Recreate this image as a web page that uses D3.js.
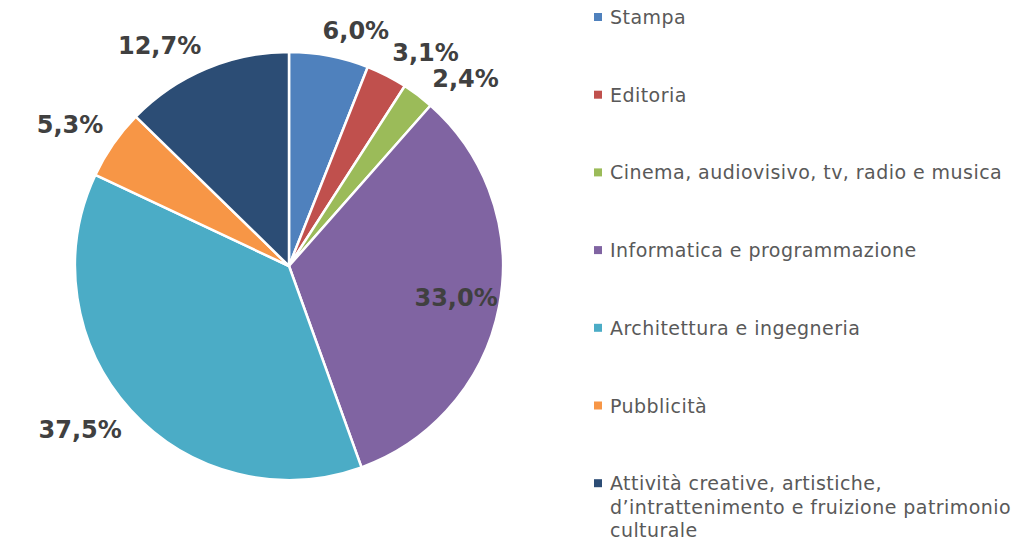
<!DOCTYPE html>
<html>
<head>
<meta charset="utf-8">
<script src="https://cdn.jsdelivr.net/npm/d3@7"></script>
<style>
  body { margin: 0; background: #fff; }
  svg { display: block; }
</style>
</head>
<body>
<div id="chart"></div>
<script>
// categories, shares (percent) and slice colours
var categories = ["Stampa", "Editoria", "Cinema, audiovisivo, tv, radio e musica",
  "Informatica e programmazione", "Architettura e ingegneria", "Pubblicità",
  "Attività creative, artistiche, d\u2019intrattenimento e fruizione patrimonio culturale"];
var values = [6.0, 3.1, 2.4, 33.0, 37.5, 5.3, 12.7];
var colors = ["#4F81BD", "#C0504D", "#9BBB59", "#8064A2", "#4BACC6", "#F79646", "#2C4D75"];
// legend text broken in lines like the original
var legendLines = [["Stampa"], ["Editoria"], ["Cinema, audiovisivo, tv, radio e musica"],
  ["Informatica e programmazione"], ["Architettura e ingegneria"], ["Pubblicità"],
  ["Attività creative, artistiche,", "d\u2019intrattenimento e fruizione patrimonio", "culturale"]];
// labels that Excel put inside the slice
var insideLabels = [false, false, false, true, false, false, false];

var width = 1033, height = 546;
var cx = 289, cy = 266, radius = 214;

var svg = d3.select("#chart").append("svg")
  .attr("width", width)
  .attr("height", height);

var data = categories.map(function (c, i) {
  return {name: c, value: values[i], color: colors[i], inside: insideLabels[i]};
});

var pie = d3.pie()
  .sort(null)
  .value(function (d) { return d.value; });

var arc = d3.arc()
  .innerRadius(0)
  .outerRadius(radius);

var arcs = pie(data);

var g = svg.append("g")
  .attr("transform", "translate(" + cx + "," + cy + ")");

g.selectAll("path.slice")
  .data(arcs)
  .enter()
  .append("path")
    .attr("class", "slice")
    .attr("d", arc)
    .style("fill", function (d) { return d.data.color; })
    .style("stroke", "#fff")
    .style("stroke-width", 2.5)
    .style("stroke-linejoin", "round");

function fmt(v) {
  return v.toFixed(1).replace(".", ",") + "%";
}

// data labels
var labels = g.selectAll("text.lbl")
  .data(arcs)
  .enter()
  .append("text")
    .attr("class", "lbl")
    .attr("text-anchor", "middle")
    .attr("dominant-baseline", "central")
    .style("font-family", "'DejaVu Sans', Verdana, sans-serif")
    .style("font-weight", "bold")
    .style("font-size", "24px")
    .style("fill", "#404040")
    .text(function (d) { return fmt(d.data.value); });

var hh = 12, anchorR = radius + 12;

// outside end: the box corner nearest the pie sits on the anchor point
function placeOut(a, hw) {
  var sx = Math.sin(a), sy = -Math.cos(a);
  return {
    x: sx * anchorR + (sx >= 0 ? hw : -hw),
    y: sy * anchorR + (sy >= 0 ? hh : -hh)
  };
}

var lab = [];
labels.each(function (d) {
  lab.push({el: this, d: d, a: (d.startAngle + d.endAngle) / 2,
    hw: this.getBBox().width / 2, inside: d.data.inside});
});

// spread neighbouring outside labels apart when their boxes collide
var step = Math.PI / 720;
for (var it = 0; it < 200; it++) {
  var moved = false;
  for (var i = 0; i < lab.length - 1; i++) {
    var p = lab[i], q = lab[i + 1];
    if (p.inside || q.inside) continue;
    var pp = placeOut(p.a, p.hw), qq = placeOut(q.a, q.hw);
    var ox = (p.hw + q.hw + 2) - Math.abs(pp.x - qq.x);
    var oy = (2 * hh + 2) - Math.abs(pp.y - qq.y);
    if (ox > 0 && oy > 0) {
      p.a -= step;
      q.a += step;
      moved = true;
    }
  }
  if (!moved) break;
}

lab.forEach(function (l) {
  var pos;
  if (l.inside) {
    pos = {x: Math.sin(l.a) * radius * 0.795, y: -Math.cos(l.a) * radius * 0.795};
  } else {
    pos = placeOut(l.a, l.hw);
  }
  d3.select(l.el).attr("x", pos.x).attr("y", pos.y);
});

// legend
var legendX = 594, legendTop = 17, rowStep = 77.7, lineStep = 23.5;

var items = svg.selectAll("g.leg")
  .data(data)
  .enter()
  .append("g")
    .attr("class", "leg")
    .attr("transform", function (d, i) {
      return "translate(" + legendX + "," + (legendTop + i * rowStep) + ")";
    });

items.append("rect")
  .attr("x", 0)
  .attr("y", -4)
  .attr("width", 8)
  .attr("height", 8)
  .style("fill", function (d) { return d.color; });

items.append("text")
  .attr("x", 16)
  .attr("y", 0)
  .attr("dominant-baseline", "central")
  .style("font-family", "'DejaVu Sans', Tahoma, sans-serif")
  .style("font-size", "19px")
  .style("letter-spacing", "0.45px")
  .style("fill", "#595959")
  .selectAll("tspan")
  .data(function (d, i) { return legendLines[i]; })
  .enter()
  .append("tspan")
    .attr("x", 16)
    .attr("dy", function (d, j) { return j === 0 ? 0 : lineStep; })
    .text(function (d) { return d; });
</script>
</body>
</html>
